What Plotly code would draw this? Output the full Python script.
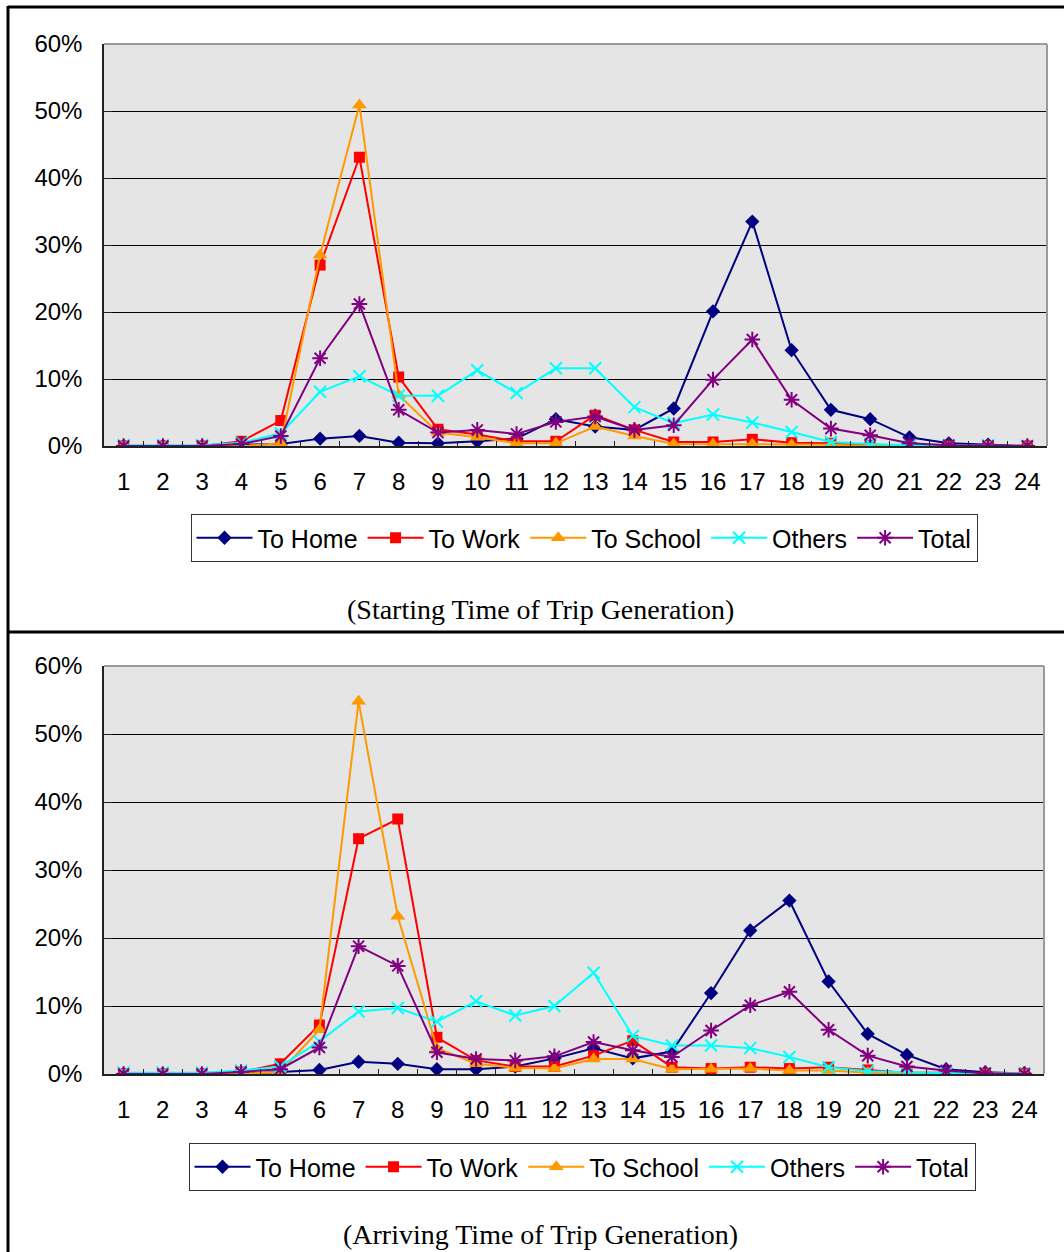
import plotly.graph_objects as go

hours = [str(h) for h in range(1, 25)]
series_names = ["To Home", "To Work", "To School", "Others", "Total"]

# Starting time of trip generation (%)
start_home = [0, 0, 0, 0.2, 0.3, 1.1, 1.5, 0.5, 0.4, 0.7, 1.1, 4.0, 2.9, 2.4, 5.6, 20.1, 33.5, 14.3, 5.4, 4.0, 1.3, 0.4, 0.2, 0]
start_work = [0, 0, 0, 0.7, 3.8, 27.0, 43.1, 10.3, 2.5, 1.7, 0.7, 0.7, 4.6, 2.4, 0.6, 0.6, 1.0, 0.5, 0.4, 0.1, 0.1, 0, 0, 0]
start_school = [0, 0, 0, 0, 0.4, 28.5, 50.9, 7.6, 2.0, 1.3, 0.4, 0.4, 2.9, 1.5, 0.3, 0.3, 0.3, 0.2, 0.2, 0, 0, 0, 0, 0]
start_others = [0.1, 0.1, 0.1, 0.5, 1.9, 8.1, 10.4, 7.5, 7.5, 11.3, 7.9, 11.6, 11.6, 5.8, 3.4, 4.7, 3.5, 2.1, 0.6, 0.3, 0.1, 0.1, 0.1, 0]
start_total = [0, 0, 0, 0.3, 1.5, 13.1, 21.2, 5.4, 2.0, 2.4, 1.8, 3.6, 4.4, 2.4, 3.1, 9.9, 15.9, 6.9, 2.6, 1.6, 0.4, 0.1, 0, 0]

# Arriving time of trip generation (%)
arrive_home = [0, 0, 0, 0, 0.3, 0.6, 1.8, 1.5, 0.7, 0.7, 1.1, 2.3, 3.8, 2.3, 3.3, 11.9, 21.1, 25.5, 13.6, 5.9, 2.8, 0.7, 0.25, 0.1]
arrive_work = [0, 0, 0, 0.3, 1.5, 7.2, 34.6, 37.5, 5.4, 2.0, 1.1, 1.1, 2.7, 4.9, 1.0, 0.8, 1.0, 0.8, 1.0, 0.6, 0.2, 0.2, 0.1, 0.1]
arrive_school = [0, 0, 0, 0, 0.3, 6.5, 54.8, 23.2, 3.8, 1.5, 0.9, 0.8, 2.2, 2.2, 0.7, 0.7, 0.8, 0.5, 0.5, 0.2, 0, 0, 0, 0]
arrive_others = [0.2, 0.2, 0.2, 0.5, 1.1, 4.8, 9.2, 9.7, 7.7, 10.7, 8.6, 10.0, 14.9, 5.6, 4.2, 4.2, 3.8, 2.5, 1.0, 0.4, 0.2, 0.1, 0.1, 0.1]
arrive_total = [0, 0, 0, 0.3, 0.7, 3.9, 18.8, 15.9, 3.2, 2.2, 2.0, 2.6, 4.7, 3.5, 2.5, 6.4, 10.1, 12.1, 6.5, 2.7, 1.1, 0.5, 0.1, 0]

y_ticks = [0, 10, 20, 30, 40, 50, 60]

captions = ["(Starting Time of Trip Generation)", "(Arriving Time of Trip Generation)"]

colors = ["#000080", "#FF0000", "#FF9900", "#00FFFF", "#800080"]
symbols = ["diamond", "square", "triangle-up", "x-thin-open", "asterisk-open"]
sizes = [11, 11, 13, 12, 13]

W, H = 1064, 1252
SANS = "Liberation Sans, Arial, sans-serif"
SERIF = "Liberation Serif, Times New Roman, serif"

fig = go.Figure()

datasets = [
    [start_home, start_work, start_school, start_others, start_total],
    [arrive_home, arrive_work, arrive_school, arrive_others, arrive_total],
]

for ci, data in enumerate(datasets):
    xa = "x" if ci == 0 else "x2"
    ya = "y" if ci == 0 else "y2"
    lg = "legend" if ci == 0 else "legend2"
    for si, vals in enumerate(data):
        open_sym = symbols[si].endswith("open")
        fig.add_trace(go.Scatter(
            x=hours, y=vals, name=series_names[si], mode="lines+markers",
            xaxis=xa, yaxis=ya, legend=lg,
            line=dict(color=colors[si], width=2),
            marker=dict(symbol=symbols[si], size=sizes[si], color=colors[si],
                        line=dict(color=colors[si], width=2 if open_sym else 0)),
        ))

def px_x(v):
    return v / W

def px_y(v):
    return 1 - v / H

axis_font = dict(family=SANS, size=24, color="#000000")

def xaxis(domain, anchor):
    return dict(domain=domain, anchor=anchor, type="category",
                range=[-0.5, len(hours) - 0.5], autorange=False, automargin=False,
                showline=True, linecolor="#222222", linewidth=1.5,
                ticks="inside", tickson="boundaries", ticklen=5, tickcolor="#222222",
                showgrid=False, zeroline=False, tickfont=axis_font,
                ticklabelstandoff=13, fixedrange=True)

def yaxis(domain, anchor):
    return dict(domain=domain, anchor=anchor, range=[0, 60], autorange=False, automargin=False,
                tickvals=y_ticks, ticktext=[f"{t}%" for t in y_ticks],
                showline=True, linecolor="#222222", linewidth=1.5,
                ticks="inside", ticklen=8, tickcolor="#222222",
                showgrid=True, gridcolor="#000000", gridwidth=1, zeroline=False,
                tickfont=axis_font, ticklabelstandoff=15, fixedrange=True)

leg_common = dict(orientation="h", xanchor="center", yanchor="middle",
                  bgcolor="#FFFFFF", bordercolor="#333333", borderwidth=1,
                  font=dict(family=SANS, size=25, color="#000000"),
                  itemwidth=56, itemclick=False, itemdoubleclick=False,
                  tracegroupgap=0)

shapes = []
# outer frame lines
shapes.append(dict(type="line", xref="paper", yref="paper", x0=px_x(8), x1=px_x(8), y0=0, y1=px_y(6),
                   line=dict(color="#000000", width=3)))
shapes.append(dict(type="line", xref="paper", yref="paper", x0=px_x(8), x1=1, y0=px_y(7), y1=px_y(7),
                   line=dict(color="#000000", width=3)))
shapes.append(dict(type="line", xref="paper", yref="paper", x0=px_x(8), x1=1, y0=px_y(632), y1=px_y(632),
                   line=dict(color="#000000", width=3)))
# gray top / right plot borders
for xr, yr in [("x domain", "y domain"), ("x2 domain", "y2 domain")]:
    shapes.append(dict(type="line", xref=xr, yref=yr, x0=0, x1=1, y0=1, y1=1,
                       line=dict(color="#9a9a9a", width=2), layer="above"))
    shapes.append(dict(type="line", xref=xr, yref=yr, x0=1, x1=1, y0=0, y1=1,
                       line=dict(color="#9a9a9a", width=2), layer="above"))

annotations = [
    dict(text=captions[0], xref="paper", yref="paper", x=px_x(540), y=px_y(609),
         xanchor="center", yanchor="middle", showarrow=False,
         font=dict(family=SERIF, size=28, color="#000000")),
    dict(text=captions[1], xref="paper", yref="paper", x=px_x(540), y=px_y(1234),
         xanchor="center", yanchor="middle", showarrow=False,
         font=dict(family=SERIF, size=28, color="#000000")),
]

fig.update_layout(
    width=W, height=H, margin=dict(l=0, r=0, t=0, b=0, pad=0, autoexpand=False),
    paper_bgcolor="#FFFFFF", plot_bgcolor="#E5E5E5",
    showlegend=True,
    xaxis=xaxis([px_x(104), px_x(1047)], "y"),
    yaxis=yaxis([px_y(446), px_y(44)], "x"),
    xaxis2=xaxis([px_x(104), px_x(1044)], "y2"),
    yaxis2=yaxis([px_y(1074), px_y(666)], "x2"),
    legend=dict(leg_common, x=px_x(584), y=px_y(538)),
    legend2=dict(leg_common, x=px_x(582), y=px_y(1167)),
    shapes=shapes, annotations=annotations,
    hovermode=False,
)

fig.write_html("out.html", config={"displayModeBar": False},
               post_script="document.body.style.margin='0';document.body.style.overflow='hidden';")
